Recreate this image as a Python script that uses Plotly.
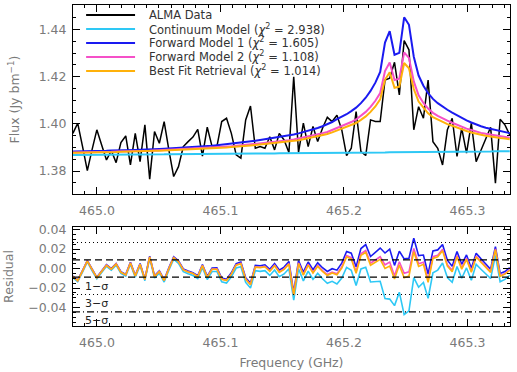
"""ALMA spectrum with continuum / forward-model fits and residual panel."""

import plotly.graph_objects as go

# channel frequencies (GHz)
FREQ_GHZ = [
    464.9805, 464.9844, 464.9883, 464.9922, 464.9960, 464.9999, 465.0038, 465.0077,
    465.0116, 465.0155, 465.0194, 465.0233, 465.0271, 465.0310, 465.0349, 465.0388,
    465.0427, 465.0466, 465.0505, 465.0544, 465.0582, 465.0621, 465.0660, 465.0699,
    465.0738, 465.0777, 465.0816, 465.0854, 465.0893, 465.0932, 465.0971, 465.1010,
    465.1049, 465.1088, 465.1127, 465.1165, 465.1204, 465.1243, 465.1282, 465.1321,
    465.1360, 465.1399, 465.1438, 465.1476, 465.1515, 465.1554, 465.1593, 465.1632,
    465.1671, 465.1710, 465.1749, 465.1787, 465.1826, 465.1865, 465.1904, 465.1943,
    465.1982, 465.2021, 465.2059, 465.2098, 465.2137, 465.2176, 465.2215, 465.2254,
    465.2293, 465.2332, 465.2370, 465.2409, 465.2448, 465.2487, 465.2526, 465.2565,
    465.2604, 465.2643, 465.2681, 465.2720, 465.2759, 465.2798, 465.2837, 465.2876,
    465.2915, 465.2953, 465.2992, 465.3031, 465.3070, 465.3109, 465.3148, 465.3187,
    465.3226, 465.3264, 465.3303, 465.3342,
]

ALMA_DATA = [
    1.3960, 1.4003, 1.3905, 1.3802, 1.3890, 1.3975, 1.3911, 1.3847,
    1.3887, 1.3836, 1.3921, 1.3949, 1.3826, 1.3960, 1.3840, 1.3996,
    1.3766, 1.3968, 1.3918, 1.4010, 1.3890, 1.3777, 1.3819, 1.3904,
    1.3925, 1.3944, 1.3977, 1.3864, 1.3986, 1.3904, 1.3904, 1.4010,
    1.4024, 1.3960, 1.3869, 1.3855, 1.4017, 1.4076, 1.3897, 1.3904,
    1.3897, 1.3946, 1.3890, 1.3960, 1.3932, 1.3879, 1.4200, 1.3879,
    1.4003, 1.3904, 1.3989, 1.3925, 1.3982, 1.4028, 1.4010, 1.4037,
    1.3975, 1.3866, 1.3897, 1.4052, 1.3883, 1.3866, 1.4017, 1.4010,
    1.4010, 1.4186, 1.4194, 1.4261, 1.4123, 1.4353, 1.4314, 1.3975,
    1.4073, 1.4024, 1.4186, 1.3925, 1.3897, 1.3826, 1.3975, 1.4024,
    1.3862, 1.3982, 1.3876, 1.4003, 1.3840, 1.3890, 1.3939, 1.3986,
    1.3749, 1.4020, 1.3996, 1.3953,
]

CONTINUUM_MODEL = [
    1.3868, 1.3868, 1.3868, 1.3869, 1.3869, 1.3869, 1.3869, 1.3869,
    1.3869, 1.3870, 1.3870, 1.3870, 1.3870, 1.3870, 1.3870, 1.3871,
    1.3871, 1.3871, 1.3871, 1.3871, 1.3872, 1.3872, 1.3872, 1.3872,
    1.3872, 1.3872, 1.3873, 1.3873, 1.3873, 1.3873, 1.3873, 1.3873,
    1.3874, 1.3874, 1.3874, 1.3874, 1.3874, 1.3875, 1.3875, 1.3875,
    1.3875, 1.3875, 1.3875, 1.3876, 1.3876, 1.3876, 1.3876, 1.3876,
    1.3876, 1.3877, 1.3877, 1.3877, 1.3877, 1.3877, 1.3878, 1.3878,
    1.3878, 1.3878, 1.3878, 1.3878, 1.3879, 1.3879, 1.3879, 1.3879,
    1.3879, 1.3879, 1.3880, 1.3880, 1.3880, 1.3880, 1.3880, 1.3881,
    1.3881, 1.3881, 1.3881, 1.3881, 1.3881, 1.3882, 1.3882, 1.3882,
    1.3882, 1.3882, 1.3882, 1.3883, 1.3883, 1.3883, 1.3883, 1.3883,
    1.3884, 1.3884, 1.3884, 1.3884,
]

FORWARD_MODEL_1 = [
    1.3883, 1.3883, 1.3884, 1.3884, 1.3885, 1.3885, 1.3886, 1.3886,
    1.3887, 1.3887, 1.3888, 1.3889, 1.3889, 1.3890, 1.3891, 1.3891,
    1.3892, 1.3893, 1.3894, 1.3895, 1.3896, 1.3897, 1.3898, 1.3899,
    1.3900, 1.3902, 1.3903, 1.3905, 1.3906, 1.3908, 1.3910, 1.3912,
    1.3914, 1.3916, 1.3918, 1.3921, 1.3923, 1.3926, 1.3929, 1.3932,
    1.3935, 1.3938, 1.3941, 1.3944, 1.3947, 1.3951, 1.3955, 1.3960,
    1.3965, 1.3971, 1.3977, 1.3983, 1.3990, 1.3998, 1.4008, 1.4020,
    1.4030, 1.4041, 1.4054, 1.4069, 1.4088, 1.4111, 1.4140, 1.4175,
    1.4220, 1.4345, 1.4393, 1.4293, 1.4301, 1.4452, 1.4420, 1.4285,
    1.4205, 1.4162, 1.4130, 1.4106, 1.4088, 1.4073, 1.4060, 1.4048,
    1.4036, 1.4025, 1.4015, 1.4006, 1.3997, 1.3990, 1.3984, 1.3979,
    1.3974, 1.3969, 1.3965, 1.3961,
]

FORWARD_MODEL_2 = [
    1.3879, 1.3879, 1.3880, 1.3880, 1.3881, 1.3881, 1.3882, 1.3882,
    1.3882, 1.3883, 1.3883, 1.3884, 1.3884, 1.3885, 1.3885, 1.3886,
    1.3886, 1.3887, 1.3888, 1.3889, 1.3890, 1.3890, 1.3891, 1.3892,
    1.3893, 1.3894, 1.3895, 1.3897, 1.3897, 1.3899, 1.3900, 1.3902,
    1.3904, 1.3905, 1.3907, 1.3909, 1.3910, 1.3913, 1.3915, 1.3917,
    1.3919, 1.3922, 1.3924, 1.3926, 1.3928, 1.3931, 1.3934, 1.3938,
    1.3942, 1.3947, 1.3951, 1.3955, 1.3961, 1.3966, 1.3974, 1.3983,
    1.3990, 1.3999, 1.4008, 1.4019, 1.4034, 1.4051, 1.4072, 1.4098,
    1.4131, 1.4224, 1.4260, 1.4186, 1.4192, 1.4303, 1.4280, 1.4180,
    1.4121, 1.4089, 1.4065, 1.4047, 1.4034, 1.4023, 1.4014, 1.4005,
    1.3996, 1.3988, 1.3980, 1.3974, 1.3967, 1.3962, 1.3958, 1.3954,
    1.3951, 1.3947, 1.3944, 1.3941,
]

BEST_FIT_RETRIEVAL = [
    1.3878, 1.3878, 1.3879, 1.3879, 1.3880, 1.3880, 1.3880, 1.3880,
    1.3881, 1.3881, 1.3882, 1.3883, 1.3883, 1.3883, 1.3884, 1.3884,
    1.3885, 1.3886, 1.3886, 1.3887, 1.3888, 1.3888, 1.3889, 1.3890,
    1.3890, 1.3892, 1.3893, 1.3894, 1.3895, 1.3896, 1.3897, 1.3899,
    1.3900, 1.3902, 1.3903, 1.3905, 1.3906, 1.3909, 1.3911, 1.3913,
    1.3915, 1.3917, 1.3919, 1.3921, 1.3923, 1.3925, 1.3928, 1.3931,
    1.3935, 1.3939, 1.3943, 1.3947, 1.3952, 1.3957, 1.3964, 1.3972,
    1.3978, 1.3986, 1.3994, 1.4004, 1.4017, 1.4032, 1.4051, 1.4074,
    1.4104, 1.4187, 1.4219, 1.4153, 1.4158, 1.4258, 1.4236, 1.4148,
    1.4095, 1.4067, 1.4045, 1.4029, 1.4018, 1.4008, 1.3999, 1.3992,
    1.3984, 1.3976, 1.3970, 1.3964, 1.3958, 1.3954, 1.3950, 1.3946,
    1.3943, 1.3940, 1.3938, 1.3935,
]

MODEL_NAMES = ["Continuum Model", "Forward Model 1", "Forward Model 2", "Best Fit Retrieval"]
MODEL_CHI2 = [2.938, 1.605, 1.108, 1.014]
MODEL_COLOURS = ["#2EC8F5", "#1A1AF0", "#F550C8", "#FFB10A"]
MODELS = [CONTINUUM_MODEL, FORWARD_MODEL_1, FORWARD_MODEL_2, BEST_FIT_RETRIEVAL]

DATA_COLOUR = "#000000"
TEXT_GREY = "#7a7a7a"
FONT = "DejaVu Sans"

SIGMA = 0.0089  # residual rms (Jy/beam)
SIGMA_LINES = [(1, "7px,4px"), (-1, "7px,4px"), (3, "1px,3px"), (-3, "1px,3px"), (-5, "7px,3px,1px,3px")]
SIGMA_LABELS = [(-1, "1−σ"), (-3, "3−σ"), (-5, "5−σ")]

X_RANGE = [464.9806, 465.3344]
FLUX_RANGE = [1.3703, 1.4504]
RESID_RANGE = [-0.059, 0.0426]

fig = go.Figure()

fig.add_trace(
    go.Scatter(x=FREQ_GHZ, y=ALMA_DATA, mode="lines", name="ALMA Data",
               line=dict(color=DATA_COLOUR, width=1.5), xaxis="x", yaxis="y")
)
for name, model, colour in zip(MODEL_NAMES, MODELS, MODEL_COLOURS):
    fig.add_trace(
        go.Scatter(x=FREQ_GHZ, y=model, mode="lines", name=name,
                   line=dict(color=colour, width=2), xaxis="x", yaxis="y")
    )

# residuals: model minus data
for name, model, colour in zip(MODEL_NAMES, MODELS, MODEL_COLOURS):
    resid = [round(m - d, 5) for m, d in zip(model, ALMA_DATA)]
    fig.add_trace(
        go.Scatter(x=FREQ_GHZ, y=resid, mode="lines", name=name + " residual",
                   line=dict(color=colour, width=1.6), xaxis="x2", yaxis="y2")
    )

shapes = []
for level, dash in SIGMA_LINES:
    shapes.append(dict(type="line", xref="x2 domain", yref="y2", x0=0, x1=1,
                       y0=level * SIGMA, y1=level * SIGMA,
                       line=dict(color="black", width=1.2, dash=dash)))

annotations = []
for level, label in SIGMA_LABELS:
    annotations.append(dict(x=465.0, y=level * SIGMA, xref="x2", yref="y2", text=label,
                            showarrow=False, yshift=-9, font=dict(family=FONT, size=11, color="#222")))

# hand-drawn legend in the top-left corner, IDL style
legend_names = ["ALMA Data"] + [
    f"{n} (<i>χ</i><sup>2</sup> = {c:.3f})" for n, c in zip(MODEL_NAMES, MODEL_CHI2)
]
legend_colours = [DATA_COLOUR] + MODEL_COLOURS
for k, (text, colour) in enumerate(zip(legend_names, legend_colours)):
    yk = 0.947 - 0.074 * k
    shapes.append(dict(type="line", xref="x domain", yref="y domain", x0=0.030, x1=0.142,
                       y0=yk, y1=yk, line=dict(color=colour, width=2)))
    annotations.append(dict(x=0.169, y=yk, xref="x domain", yref="y domain", text=text,
                            xanchor="left", yanchor="middle", showarrow=False,
                            font=dict(family=FONT, size=11.5, color="#333")))

axis_common = dict(
    showline=True, linecolor="black", linewidth=1, mirror="ticks",
    ticks="inside", tickcolor="black", showgrid=False, zeroline=False,
    automargin=False,
    tickfont=dict(family=FONT, size=12.5, color=TEXT_GREY),
)

x_common = dict(
    axis_common, range=X_RANGE, tick0=465.0, dtick=0.1, tickformat=".1f",
    ticklen=7, ticklabelstandoff=5,
    minor=dict(ticks="inside", dtick=0.01, ticklen=3, tickcolor="black"),
)

fig.update_layout(
    width=517, height=372,
    margin=dict(l=73, r=7, t=5, b=46),
    plot_bgcolor="white", paper_bgcolor="white",
    showlegend=False,
    font=dict(family=FONT, color=TEXT_GREY),
    xaxis=dict(x_common, anchor="y"),
    yaxis=dict(
        axis_common, domain=[0.4112, 1.0], anchor="x", range=FLUX_RANGE,
        tick0=1.38, dtick=0.02, tickformat=".2f", ticklen=7, ticklabelstandoff=3,
        minor=dict(ticks="inside", dtick=0.005, ticklen=3, tickcolor="black"),
        title=dict(text="Flux (Jy bm<sup>−1</sup>)", standoff=16,
                   font=dict(family=FONT, size=12.5, color=TEXT_GREY)),
    ),
    xaxis2=dict(
        x_common, anchor="y2",
        title=dict(text="Frequency (GHz)", standoff=9,
                   font=dict(family=FONT, size=12.5, color=TEXT_GREY)),
    ),
    yaxis2=dict(
        axis_common, domain=[0.0, 0.3084], anchor="x2", range=RESID_RANGE,
        tick0=0.0, dtick=0.02, tickformat=".2f", ticklen=7, ticklabelstandoff=3,
        minor=dict(ticks="inside", dtick=0.005, ticklen=3, tickcolor="black"),
        title=dict(text="Residual", standoff=11,
                   font=dict(family=FONT, size=12.5, color=TEXT_GREY)),
    ),
    shapes=shapes,
    annotations=annotations,
)

# drop the browser's default body margin so the figure sits flush in the window
fig.write_html(
    "out.html",
    config={"displayModeBar": False},
    post_script="document.body.style.margin = '0';",
)
